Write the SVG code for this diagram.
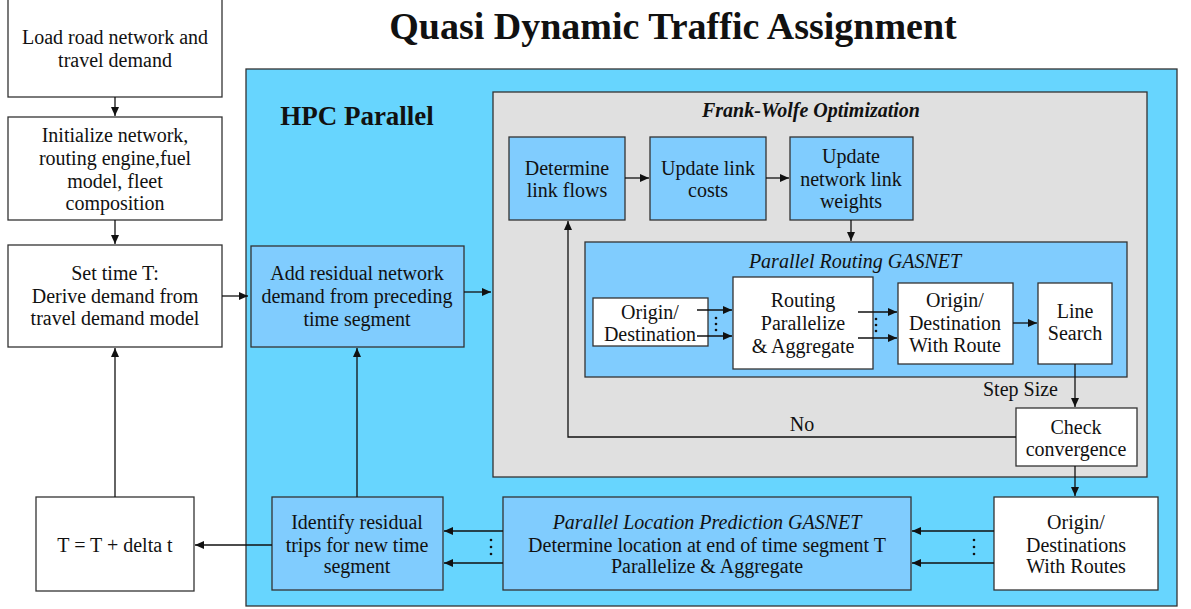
<svg xmlns="http://www.w3.org/2000/svg" width="1191" height="609" viewBox="0 0 1191 609">
<defs>
<marker id="ah" markerWidth="10" markerHeight="10" refX="9" refY="5" orient="auto" markerUnits="userSpaceOnUse">
<path d="M0,1 L9,5 L0,9 Z" fill="#111"/>
</marker>
<style>
text{font-family:"Liberation Serif","Times New Roman",serif;font-size:20px;fill:#111;text-anchor:middle}
.w{fill:#fff;stroke:#333;stroke-width:1.3}
.b{fill:#80ccfe;stroke:#333;stroke-width:1.3}
.c{stroke:#111;stroke-width:1.3;fill:none}
.a{stroke:#111;stroke-width:1.3;fill:none;marker-end:url(#ah)}
.i{font-style:italic}
.dot{fill:#111}
</style>
</defs>
<rect width="1191" height="609" fill="#fff"/>
<text x="673" y="39" style="font-size:38px;font-weight:bold">Quasi Dynamic Traffic Assignment</text>

<g id="hpc">
<rect x="246" y="69" width="931" height="537" fill="#67d5fe" stroke="#333" stroke-width="1.3"/>
<text x="357" y="125" style="font-size:27px;font-weight:bold">HPC Parallel</text>
</g>
<g id="fw">
<rect x="493" y="92" width="654" height="385" fill="#e0e0e0" stroke="#333" stroke-width="1.3"/>
<text x="811" y="117" class="i" style="font-weight:bold">Frank-Wolfe Optimization</text>
</g>
<g id="prg">
<rect x="585" y="242" width="542" height="135" class="b"/>
<text x="855" y="268" class="i">Parallel Routing GASNET</text>
</g>

<g id="load"><rect x="8" y="-1" width="214" height="98" class="w"/>
<text x="115" y="44">Load road network and</text><text x="115" y="67">travel demand</text></g>
<g id="init"><rect x="8" y="117" width="214" height="103" class="w"/>
<text x="115" y="142">Initialize network,</text><text x="115" y="165">routing engine,fuel</text><text x="115" y="188">model, fleet</text><text x="115" y="210">composition</text></g>
<g id="settime"><rect x="8" y="245" width="214" height="102" class="w"/>
<text x="115" y="280">Set time T:</text><text x="115" y="303">Derive demand from</text><text x="115" y="325">travel demand model</text></g>
<g id="tdelta"><rect x="36" y="497" width="158" height="94" class="w"/>
<text x="115" y="552">T = T + delta t</text></g>

<g id="addres"><rect x="251" y="246" width="213" height="101" class="b"/>
<text x="357" y="280">Add residual network</text><text x="357" y="303">demand from preceding</text><text x="357" y="326">time segment</text></g>

<g id="dlf"><rect x="509" y="137" width="116" height="83" class="b"/>
<text x="567" y="175">Determine</text><text x="567" y="197">link flows</text></g>
<g id="ulc"><rect x="650" y="137" width="116" height="83" class="b"/>
<text x="708" y="175">Update link</text><text x="708" y="197">costs</text></g>
<g id="unlw"><rect x="790" y="137" width="123" height="83" class="b"/>
<text x="851" y="163">Update</text><text x="851" y="186">network link</text><text x="851" y="208">weights</text></g>

<g id="od"><rect x="593" y="298" width="115" height="48" class="w"/>
<text x="650" y="319">Origin/</text><text x="650" y="341">Destination</text></g>
<g id="rpa"><rect x="733" y="277" width="140" height="92" class="w"/>
<text x="803" y="307">Routing</text><text x="803" y="330">Parallelize</text><text x="803" y="353">&amp; Aggregate</text></g>
<g id="odr"><rect x="898" y="283" width="115" height="81" class="w"/>
<text x="955" y="307">Origin/</text><text x="955" y="330">Destination</text><text x="955" y="352">With Route</text></g>
<g id="ls"><rect x="1038" y="283" width="74" height="81" class="w"/>
<text x="1075" y="318">Line</text><text x="1075" y="340">Search</text></g>
<g id="cc"><rect x="1016" y="408" width="121" height="58" class="w"/>
<text x="1076" y="434">Check</text><text x="1076" y="456">convergence</text></g>

<g id="odroutes"><rect x="994" y="497" width="164" height="93" class="w"/>
<text x="1076" y="529">Origin/</text><text x="1076" y="552">Destinations</text><text x="1076" y="573">With Routes</text></g>
<g id="plp"><rect x="503" y="497" width="408" height="93" class="b"/>
<text x="707" y="529" class="i">Parallel Location Prediction GASNET</text><text x="707" y="552">Determine location at end of time segment T</text><text x="707" y="573">Parallelize &amp; Aggregate</text></g>
<g id="ident"><rect x="272" y="497" width="171" height="93" class="b"/>
<text x="357" y="529">Identify residual</text><text x="357" y="552">trips for new time</text><text x="357" y="573">segment</text></g>

<g id="connectors">
<line x1="115" y1="97" x2="115" y2="116" class="a"/>
<line x1="115" y1="220" x2="115" y2="244" class="a"/>
<line x1="222" y1="296" x2="248" y2="296" class="a"/>
<line x1="115" y1="497" x2="115" y2="348" class="a"/>
<line x1="464" y1="292" x2="491" y2="292" class="a"/>
<line x1="357" y1="497" x2="357" y2="348" class="a"/>
<line x1="625" y1="178" x2="649" y2="178" class="a"/>
<line x1="766" y1="178" x2="789" y2="178" class="a"/>
<line x1="851" y1="220" x2="851" y2="241" class="a"/>
<line x1="697" y1="310" x2="732" y2="310" class="a"/>
<line x1="697" y1="336" x2="732" y2="336" class="a"/>
<circle cx="716" cy="318" r="1.3" class="dot"/><circle cx="716" cy="324" r="1.3" class="dot"/><circle cx="716" cy="330" r="1.3" class="dot"/>
<line x1="858" y1="312" x2="897" y2="312" class="a"/>
<line x1="858" y1="338" x2="897" y2="338" class="a"/>
<circle cx="876" cy="319" r="1.3" class="dot"/><circle cx="876" cy="325" r="1.3" class="dot"/><circle cx="876" cy="331" r="1.3" class="dot"/>
<line x1="1013" y1="323" x2="1037" y2="323" class="a"/>
<line x1="1075" y1="364" x2="1075" y2="407" class="a"/>
<text x="1058" y="396" style="text-anchor:end">Step Size</text>
<polyline points="1016,437 568,437 568,221" class="a"/>
<text x="802" y="431">No</text>
<line x1="1075" y1="466" x2="1075" y2="496" class="a"/>
<line x1="994" y1="531" x2="912" y2="531" class="a"/>
<line x1="994" y1="563" x2="912" y2="563" class="a"/>
<circle cx="974" cy="540" r="1.3" class="dot"/><circle cx="974" cy="547" r="1.3" class="dot"/><circle cx="974" cy="554" r="1.3" class="dot"/>
<line x1="503" y1="531" x2="444" y2="531" class="a"/>
<line x1="503" y1="563" x2="444" y2="563" class="a"/>
<circle cx="491" cy="540" r="1.3" class="dot"/><circle cx="491" cy="547" r="1.3" class="dot"/><circle cx="491" cy="554" r="1.3" class="dot"/>
<line x1="272" y1="545" x2="195" y2="545" class="a"/>
</g>
</svg>
